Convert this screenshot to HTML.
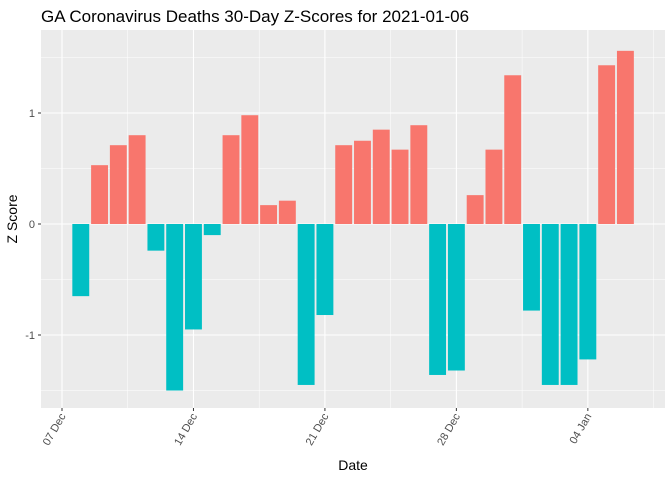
<!DOCTYPE html>
<html><head><meta charset="utf-8"><style>
body{margin:0;background:#fff;font-family:"Liberation Sans",Arial,sans-serif}
</style></head><body>
<svg id="chart" width="672" height="480" xmlns="http://www.w3.org/2000/svg" font-family="Liberation Sans, Arial, sans-serif">
<text x="41" y="22" font-size="17" fill="#000">GA Coronavirus Deaths 30-Day Z-Scores for 2021-01-06</text>
<rect x="41" y="30" width="624" height="378" fill="#EBEBEB"/>
<g id="grid"></g><g id="bars"></g><g id="axes"></g>
<text x="353" y="470" font-size="14" text-anchor="middle">Date</text>
<text transform="translate(17,219) rotate(-90)" font-size="14" text-anchor="middle">Z Score</text>
</svg>
<script>
const dayOffsets=[1,2,3,4,5,6,7,8,9,10,11,12,13,14,15,16,17,18,19,20,21,22,23,24,25,26,27,28,29,30];
const zScores=[-0.65,0.53,0.71,0.80,-0.24,-1.50,-0.95,-0.10,0.80,0.98,0.17,0.21,-1.45,-0.82,0.71,0.75,0.85,0.67,0.89,-1.36,-1.32,0.26,0.67,1.34,-0.78,-1.45,-1.45,-1.22,1.43,1.56];
const xTickDays=[0,7,14,21,28];
const xTickLabels=["07 Dec","14 Dec","21 Dec","28 Dec","04 Jan"];
const yTicks=[-1,0,1];
const yTickLabels=["-1","0","1"];
const NS="http://www.w3.org/2000/svg";
const x=d=>62+d*18.78;
const y=v=>224-v*111;
const L=41,R=665,T=30,B=408;
function mk(tag,at,parent){const e=document.createElementNS(NS,tag);for(const k in at)e.setAttribute(k,at[k]);document.getElementById(parent).appendChild(e);return e;}
// minor grid
for(const v of [-1.5,-0.5,0.5,1.5]){const l=mk('line',{x1:L,x2:R,y1:y(v),y2:y(v),stroke:'#fff','stroke-width':0.5},'grid');

}
for(let i=0;i<xTickDays.length;i++){const d=xTickDays[i]+3.5;if(x(d)>R)continue;const l=mk('line',{x1:x(d),x2:x(d),y1:T,y2:B,stroke:'#fff','stroke-width':0.5},'grid');

}
for(let i=0;i<yTicks.length;i++){const l=mk('line',{x1:L,x2:R,y1:y(yTicks[i]),y2:y(yTicks[i]),stroke:'#fff','stroke-width':1.1},'grid');


const tk=mk('line',{x1:L-3,x2:L,y1:y(yTicks[i]),y2:y(yTicks[i]),stroke:'#333'},'axes');


const t=mk('text',{x:L-6,y:y(yTicks[i])+4,'font-size':11,fill:'#4D4D4D','text-anchor':'end'},'axes');t.textContent=yTickLabels[i];

}
for(let i=0;i<xTickDays.length;i++){const xx=x(xTickDays[i]);
const l=mk('line',{x1:xx,x2:xx,y1:T,y2:B,stroke:'#fff','stroke-width':1.1},'grid');


const tk=mk('line',{x1:xx,x2:xx,y1:B,y2:B+3,stroke:'#333'},'axes');


const t=mk('text',{transform:`translate(${xx+4},${B+8}) rotate(-60)`,'font-size':11,fill:'#4D4D4D','text-anchor':'end'},'axes');t.textContent=xTickLabels[i];

}
const w=18.78*0.9;
for(let i=0;i<zScores.length;i++){const v=zScores[i];const cx=x(dayOffsets[i]);
const r=mk('rect',{x:cx-w/2,y:Math.min(y(v),y(0)),width:w,height:Math.abs(y(v)-y(0)),fill:v>=0?'#F8766D':'#00BFC4'},'bars');

}
</script>
</body></html>
